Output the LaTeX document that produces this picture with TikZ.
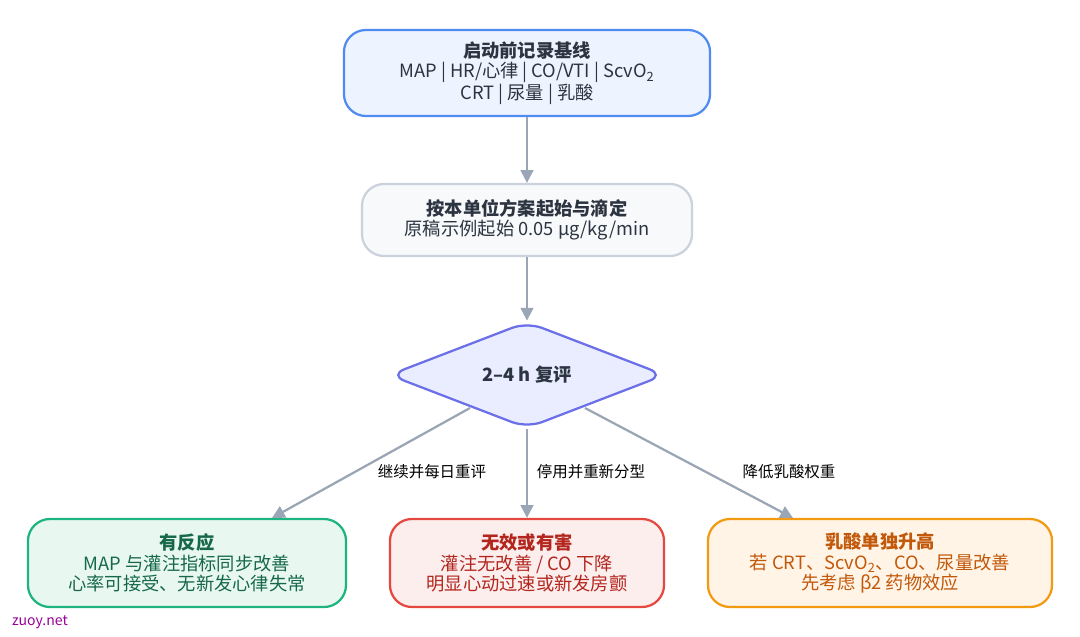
\documentclass[tikz,border=0pt]{standalone}
\usepackage{fontspec}
\setmainfont{Noto Sans CJK SC}
\usetikzlibrary{shapes.geometric,arrows.meta}
\definecolor{arrowgray}{HTML}{9AA6B6}
\definecolor{bluebd}{HTML}{4F8BF0}\definecolor{bluefill}{HTML}{EEF4FF}
\definecolor{graybd}{HTML}{CBD2DC}\definecolor{grayfill}{HTML}{F7F9FB}
\definecolor{dmbd}{HTML}{6B6FE8}\definecolor{dmfill}{HTML}{E9EDFF}
\definecolor{greenbd}{HTML}{1DB47F}\definecolor{greenfill}{HTML}{E8F8F1}\definecolor{greentx}{HTML}{17684B}
\definecolor{redbd}{HTML}{E5483E}\definecolor{redfill}{HTML}{FDEEEE}\definecolor{redtx}{HTML}{B3261E}
\definecolor{orbd}{HTML}{F29B12}\definecolor{orfill}{HTML}{FFF4E6}\definecolor{ortx}{HTML}{C2580A}
\definecolor{txt}{HTML}{2B3440}
\tikzset{
  box/.style={draw, rounded corners=0.55cm, line width=1.6pt, align=center, text=txt,
    font=\fontsize{13}{14.5}\selectfont, inner sep=0pt},
  arr/.style={-{Triangle[length=9pt,width=9pt]}, arrowgray, line width=1.6pt},
  lbl/.style={font=\fontsize{11}{13}\selectfont, text=black, fill=white, inner sep=1pt}
}
\begin{document}
\begin{tikzpicture}[x=0.025cm, y=-0.025cm]
\useasboundingbox (0,0) rectangle (1080,637);
		\node[box, draw=bluebd, fill=bluefill, minimum width=9.15cm, minimum height=2.15cm] (base) at (527,73)
			{\textbf{启动前记录基线}\\MAP | HR/心律 | CO/VTI | ScvO\textsubscript{2}\\CRT | 尿量 | 乳酸};
		\node[box, draw=graybd, fill=grayfill, minimum width=8.25cm, minimum height=1.8cm] (start) at (527,220)
			{\textbf{按本单位方案起始与滴定}\\原稿示例起始 0.05 μg/kg/min};
		\node[diamond, draw=dmbd, fill=dmfill, line width=1.6pt, rounded corners=0.4cm, inner sep=0pt,
			minimum width=6.9cm, minimum height=2.35cm, font=\fontsize{13}{14.5}\selectfont\bfseries, text=txt] (review) at (527,375)
			{2–4 h 复评};
		\node[box, draw=greenbd, fill=greenfill, text=greentx, minimum width=7.95cm, minimum height=2.2cm] (resp) at (187,563)
			{\textbf{有反应}\\MAP 与灌注指标同步改善\\心率可接受、无新发心律失常};
		\node[box, draw=redbd, fill=redfill, text=redtx, minimum width=6.85cm, minimum height=2.2cm] (fail) at (527,563)
			{\textbf{无效或有害}\\灌注无改善 / CO 下降\\明显心动过速或新发房颤};
		\node[box, draw=orbd, fill=orfill, text=ortx, minimum width=8.6cm, minimum height=2.2cm] (lact) at (880,563)
			{\textbf{乳酸单独升高}\\若 CRT、ScvO\textsubscript{2}、CO、尿量改善\\先考虑 β2 药物效应};
		\node[text=violet!80!magenta, font=\fontsize{10}{12}\selectfont] (site) at (40,622) {zuoy.net};

		\coordinate (lStart) at (470,408);
		\coordinate (lEnd) at (272,518);
		\coordinate (rStart) at (585,408);
		\coordinate (rEnd) at (793,518);
		\draw[arr] (base) -- (start);
		\draw[arr] (start) -- (review);
		\draw[arr] (lStart) -- (lEnd);
		\draw[arr] (review.south) -- (fail);
		\draw[arr] (rStart) -- (rEnd);
		\node[lbl] (lblL) at (432,472) {继续并每日重评};
		\node[lbl] (lblM) at (591,472) {停用并重新分型};
		\node[lbl] (lblR) at (789,472) {降低乳酸权重};
\end{tikzpicture}
\end{document}
